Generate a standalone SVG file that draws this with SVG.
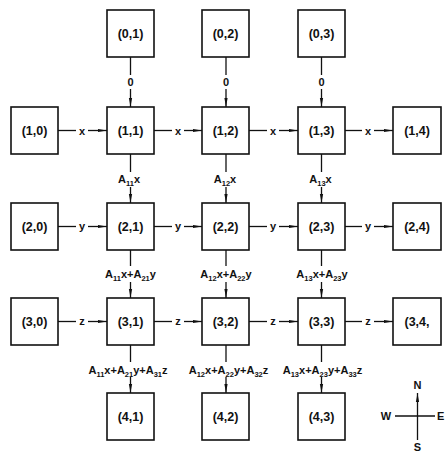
<svg xmlns="http://www.w3.org/2000/svg" width="446" height="452" viewBox="0 0 446 452">
<style>
.box rect{fill:#fff;stroke:#111;stroke-width:1.6}
.box text{font-family:"Liberation Sans",Arial,sans-serif;font-weight:bold;font-size:12.5px;fill:#111;text-anchor:middle}
.lbl{font-family:"Liberation Sans",Arial,sans-serif;font-weight:bold;font-size:11px;fill:#111;text-anchor:middle}
.sb{font-size:7.5px}
#connectors line{stroke:#111;stroke-width:1.3}
.arr{marker-end:url(#ah)}
</style>
<defs>
<marker id="ah" markerUnits="userSpaceOnUse" markerWidth="10" markerHeight="6" refX="9" refY="2.2" orient="auto">
<path d="M0,0.6 L9,2.2 L0,3.8 z" fill="#111"/>
</marker>
</defs>
<rect width="446" height="452" fill="#fff"/>
<g id="connectors">
<line x1="130.5" y1="57" x2="130.5" y2="75"/><line class="arr" x1="130.5" y1="89" x2="130.5" y2="107"/>
<line x1="226" y1="57" x2="226" y2="75"/><line class="arr" x1="226" y1="89" x2="226" y2="107"/>
<line x1="321.5" y1="57" x2="321.5" y2="75"/><line class="arr" x1="321.5" y1="89" x2="321.5" y2="107"/>
<line x1="130.5" y1="154" x2="130.5" y2="172"/><line class="arr" x1="130.5" y1="187" x2="130.5" y2="203"/>
<line x1="226" y1="154" x2="226" y2="172"/><line class="arr" x1="226" y1="187" x2="226" y2="203"/>
<line x1="321.5" y1="154" x2="321.5" y2="172"/><line class="arr" x1="321.5" y1="187" x2="321.5" y2="203"/>
<line x1="130.5" y1="250" x2="130.5" y2="266"/><line class="arr" x1="130.5" y1="282" x2="130.5" y2="298"/>
<line x1="226" y1="250" x2="226" y2="266"/><line class="arr" x1="226" y1="282" x2="226" y2="298"/>
<line x1="321.5" y1="250" x2="321.5" y2="266"/><line class="arr" x1="321.5" y1="282" x2="321.5" y2="298"/>
<line x1="130.5" y1="345" x2="130.5" y2="362"/><line class="arr" x1="130.5" y1="377" x2="130.5" y2="393"/>
<line x1="226" y1="345" x2="226" y2="362"/><line class="arr" x1="226" y1="377" x2="226" y2="393"/>
<line x1="321.5" y1="345" x2="321.5" y2="362"/><line class="arr" x1="321.5" y1="377" x2="321.5" y2="393"/>
<line x1="58" y1="130.5" x2="76" y2="130.5"/><line class="arr" x1="88" y1="130.5" x2="107" y2="130.5"/>
<line x1="154" y1="130.5" x2="172" y2="130.5"/><line class="arr" x1="184" y1="130.5" x2="202" y2="130.5"/>
<line x1="249" y1="130.5" x2="267" y2="130.5"/><line class="arr" x1="279" y1="130.5" x2="298" y2="130.5"/>
<line x1="345" y1="130.5" x2="362" y2="130.5"/><line class="arr" x1="374" y1="130.5" x2="393" y2="130.5"/>
<line x1="58" y1="226.5" x2="76" y2="226.5"/><line class="arr" x1="88" y1="226.5" x2="107" y2="226.5"/>
<line x1="154" y1="226.5" x2="172" y2="226.5"/><line class="arr" x1="184" y1="226.5" x2="202" y2="226.5"/>
<line x1="249" y1="226.5" x2="267" y2="226.5"/><line class="arr" x1="279" y1="226.5" x2="298" y2="226.5"/>
<line x1="345" y1="226.5" x2="362" y2="226.5"/><line class="arr" x1="374" y1="226.5" x2="393" y2="226.5"/>
<line x1="58" y1="321.5" x2="76" y2="321.5"/><line class="arr" x1="88" y1="321.5" x2="107" y2="321.5"/>
<line x1="154" y1="321.5" x2="172" y2="321.5"/><line class="arr" x1="184" y1="321.5" x2="202" y2="321.5"/>
<line x1="249" y1="321.5" x2="267" y2="321.5"/><line class="arr" x1="279" y1="321.5" x2="298" y2="321.5"/>
<line x1="345" y1="321.5" x2="362" y2="321.5"/><line class="arr" x1="374" y1="321.5" x2="393" y2="321.5"/>
</g>
<g id="labels">
<text class="lbl" x="130.5" y="86">0</text>
<text class="lbl" x="226" y="86">0</text>
<text class="lbl" x="321.5" y="86">0</text>
<text class="lbl" x="82" y="134.5">x</text>
<text class="lbl" x="178" y="134.5">x</text>
<text class="lbl" x="273" y="134.5">x</text>
<text class="lbl" x="368" y="134.5">x</text>
<text class="lbl" x="82" y="230">y</text>
<text class="lbl" x="178" y="230">y</text>
<text class="lbl" x="273" y="230">y</text>
<text class="lbl" x="368" y="230">y</text>
<text class="lbl" x="82" y="325">z</text>
<text class="lbl" x="178" y="325">z</text>
<text class="lbl" x="273" y="325">z</text>
<text class="lbl" x="368" y="325">z</text>
<text class="lbl" x="129" y="183">A<tspan class="sb" dy="2.5">11</tspan><tspan dy="-2.5">x</tspan></text>
<text class="lbl" x="225" y="183">A<tspan class="sb" dy="2.5">12</tspan><tspan dy="-2.5">x</tspan></text>
<text class="lbl" x="320.5" y="183">A<tspan class="sb" dy="2.5">13</tspan><tspan dy="-2.5">x</tspan></text>
<text class="lbl" x="130.5" y="278">A<tspan class="sb" dy="2.5">11</tspan><tspan dy="-2.5">x+A</tspan><tspan class="sb" dy="2.5">21</tspan><tspan dy="-2.5">y</tspan></text>
<text class="lbl" x="226" y="278">A<tspan class="sb" dy="2.5">12</tspan><tspan dy="-2.5">x+A</tspan><tspan class="sb" dy="2.5">22</tspan><tspan dy="-2.5">y</tspan></text>
<text class="lbl" x="322" y="278">A<tspan class="sb" dy="2.5">13</tspan><tspan dy="-2.5">x+A</tspan><tspan class="sb" dy="2.5">23</tspan><tspan dy="-2.5">y</tspan></text>
<text class="lbl" x="128" y="374">A<tspan class="sb" dy="2.5">11</tspan><tspan dy="-2.5">x+A</tspan><tspan class="sb" dy="2.5">21</tspan><tspan dy="-2.5">y+A</tspan><tspan class="sb" dy="2.5">31</tspan><tspan dy="-2.5">z</tspan></text>
<text class="lbl" x="228.5" y="374">A<tspan class="sb" dy="2.5">12</tspan><tspan dy="-2.5">x+A</tspan><tspan class="sb" dy="2.5">22</tspan><tspan dy="-2.5">y+A</tspan><tspan class="sb" dy="2.5">32</tspan><tspan dy="-2.5">z</tspan></text>
<text class="lbl" x="322.5" y="374">A<tspan class="sb" dy="2.5">13</tspan><tspan dy="-2.5">x+A</tspan><tspan class="sb" dy="2.5">23</tspan><tspan dy="-2.5">y+A</tspan><tspan class="sb" dy="2.5">33</tspan><tspan dy="-2.5">z</tspan></text>
</g>
<g id="n01" class="box"><rect x="107" y="10" width="47" height="47"/><text x="130.5" y="38">(0,1)</text></g>
<g id="n02" class="box"><rect x="202" y="10" width="47" height="47"/><text x="225.5" y="38">(0,2)</text></g>
<g id="n03" class="box"><rect x="298" y="10" width="47" height="47"/><text x="321.5" y="38">(0,3)</text></g>
<g id="n10" class="box"><rect x="11" y="107" width="47" height="47"/><text x="34.5" y="135">(1,0)</text></g>
<g id="n11" class="box"><rect x="107" y="107" width="47" height="47"/><text x="130.5" y="135">(1,1)</text></g>
<g id="n12" class="box"><rect x="202" y="107" width="47" height="47"/><text x="225.5" y="135">(1,2)</text></g>
<g id="n13" class="box"><rect x="298" y="107" width="47" height="47"/><text x="321.5" y="135">(1,3)</text></g>
<g id="n14" class="box"><rect x="393" y="107" width="48" height="47"/><text x="417" y="135">(1,4)</text></g>
<g id="n20" class="box"><rect x="11" y="203" width="47" height="47"/><text x="34.5" y="231">(2,0)</text></g>
<g id="n21" class="box"><rect x="107" y="203" width="47" height="47"/><text x="130.5" y="231">(2,1)</text></g>
<g id="n22" class="box"><rect x="202" y="203" width="47" height="47"/><text x="225.5" y="231">(2,2)</text></g>
<g id="n23" class="box"><rect x="298" y="203" width="47" height="47"/><text x="321.5" y="231">(2,3)</text></g>
<g id="n24" class="box"><rect x="393" y="203" width="48" height="47"/><text x="417" y="231">(2,4)</text></g>
<g id="n30" class="box"><rect x="11" y="298" width="47" height="47"/><text x="34.5" y="326">(3,0)</text></g>
<g id="n31" class="box"><rect x="107" y="298" width="47" height="47"/><text x="130.5" y="326">(3,1)</text></g>
<g id="n32" class="box"><rect x="202" y="298" width="47" height="47"/><text x="225.5" y="326">(3,2)</text></g>
<g id="n33" class="box"><rect x="298" y="298" width="47" height="47"/><text x="321.5" y="326">(3,3)</text></g>
<g id="n34" class="box"><rect x="393" y="298" width="48" height="47"/><text x="417" y="326">(3,4,</text></g>
<g id="n41" class="box"><rect x="107" y="393" width="47" height="47"/><text x="130.5" y="421">(4,1)</text></g>
<g id="n42" class="box"><rect x="202" y="393" width="47" height="47"/><text x="225.5" y="421">(4,2)</text></g>
<g id="n43" class="box"><rect x="298" y="393" width="47" height="47"/><text x="321.5" y="421">(4,3)</text></g>
<g id="compass">
<line x1="395" y1="416" x2="435" y2="416" stroke="#111" stroke-width="1.3"/>
<line x1="417.5" y1="440" x2="417.5" y2="393" stroke="#111" stroke-width="1.3" marker-end="url(#ah)"/>
<text class="lbl" x="417.5" y="389">N</text>
<text class="lbl" x="386" y="420">W</text>
<text class="lbl" x="417.5" y="450.5">S</text>
<text class="lbl" x="437" y="420" style="text-anchor:start">E</text>
</g>
</svg>
